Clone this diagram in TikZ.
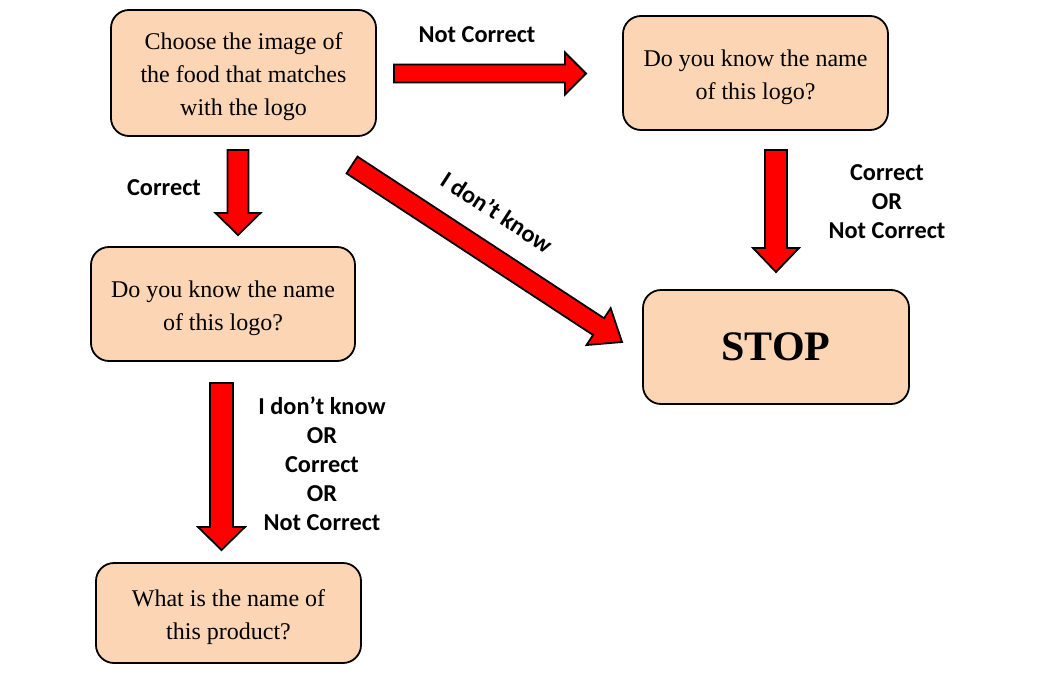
\documentclass[tikz,border=0pt]{standalone}
\usepackage{fontspec}
\setmainfont{Liberation Serif}
\newfontfamily\labfont{Carlito}
\usetikzlibrary{calc}
\definecolor{peach}{RGB}{252,213,180}
\tikzset{
 box/.style={draw=black, line width=1.8pt, fill=peach, rounded corners=18pt, inner sep=0pt},
 boxtext/.style={align=center, inner sep=0pt, font=\fontsize{24}{33}\selectfont},
 lab/.style={font=\labfont\bfseries\fontsize{24.3}{29}\selectfont, align=center, inner sep=0pt},
 barrow/.style={draw=black, line width=1.8pt, fill=red, line join=miter},
}
\newcommand\blockarrow[5]{%
 \coordinate (#1-#2-h) at ($(#2)!#5!(#1)$);
 \draw[barrow] ($(#1)!#3!90:(#2)$) -- ($(#1-#2-h)!#3!-90:(#1)$) -- ($(#1-#2-h)!#4!-90:(#1)$) -- (#2) -- ($(#1-#2-h)!#4!90:(#1)$) -- ($(#1-#2-h)!#3!90:(#1)$) -- ($(#1)!#3!-90:(#2)$) -- cycle;}
\begin{document}
\begin{tikzpicture}[x=1pt,y=-1pt]
\useasboundingbox (0,0) rectangle (1046,685);
% boxes
\node[box, minimum width=265pt, minimum height=126pt] (choose) at (243.5,73) {};
\node[boxtext] (choose-t) at ($(choose.center)+(0,4)$) {Choose the image of\\the food that matches\\with the logo};
\node[box, minimum width=265pt, minimum height=114pt] (know2) at (755.5,73) {};
\node[boxtext] (know2-t) at ($(know2.center)+(0,4)$) {Do you know the name\\of this logo?};
\node[box, minimum width=264pt, minimum height=114pt] (know1) at (223,304) {};
\node[boxtext] (know1-t) at ($(know1.center)+(0,4)$) {Do you know the name\\of this logo?};
\node[box, minimum width=266pt, minimum height=114pt, font=\fontsize{42}{42}\selectfont\bfseries] (stop) at (776,347) {STOP};
\node[box, minimum width=265pt, minimum height=100pt] (product) at (228.5,613) {};
\node[boxtext] (product-t) at ($(product.center)+(0,4)$) {What is the name of\\this product?};
% arrow end points
\coordinate (a1) at (394,73.5);
\coordinate (a2) at (586,73.5);
\coordinate (b1) at (238,150);
\coordinate (b2) at (238,235);
\coordinate (c1) at (352,165);
\coordinate (c2) at (622,342);
\coordinate (d1) at (776,150);
\coordinate (d2) at (776,272);
\coordinate (e1) at (221.5,383);
\coordinate (e2) at (221.5,550);
\blockarrow{a1}{a2}{9pt}{21pt}{21pt}
\blockarrow{b1}{b2}{10.5pt}{22.5pt}{22pt}
\blockarrow{c1}{c2}{10pt}{22pt}{28pt}
\blockarrow{d1}{d2}{11pt}{23pt}{24pt}
\blockarrow{e1}{e2}{11.5pt}{23.5pt}{23pt}
% labels
\node[lab] (lnc) at (477,35) {Not Correct};
\node[lab] (lc) at (164,188) {Correct};
\node[lab, rotate=-33] (lidk) at (497,212) {I don’t know};
\node[lab] (lcor) at (887,202) {Correct\\OR\\Not Correct};
\node[lab] (lall) at (322,464) {I don’t know\\OR\\Correct\\OR\\Not Correct};
\end{tikzpicture}
\end{document}
